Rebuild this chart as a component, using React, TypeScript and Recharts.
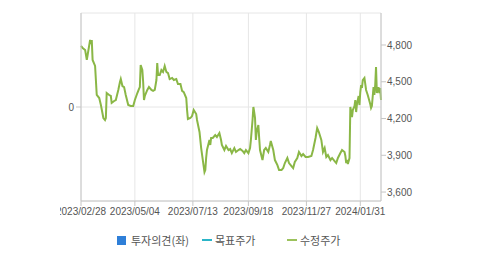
import { CartesianGrid, Line, LineChart, XAxis, YAxis } from 'recharts';

// 수정주가 (adjusted price)
const dates = [
  '2023-02-28', '2023-03-02', '2023-03-05', '2023-03-07', '2023-03-08', '2023-03-11', '2023-03-12', '2023-03-13',
  '2023-03-14', '2023-03-17', '2023-03-19', '2023-03-22', '2023-03-24', '2023-03-27', '2023-03-29', '2023-03-30',
  '2023-03-31', '2023-04-03', '2023-04-05', '2023-04-06', '2023-04-09', '2023-04-11', '2023-04-14', '2023-04-16',
  '2023-04-17', '2023-04-19', '2023-04-21', '2023-04-23', '2023-04-26', '2023-04-29', '2023-05-02', '2023-05-04',
  '2023-05-07', '2023-05-09', '2023-05-10', '2023-05-11', '2023-05-13', '2023-05-14', '2023-05-15', '2023-05-16',
  '2023-05-19', '2023-05-21', '2023-05-24', '2023-05-26', '2023-05-28', '2023-05-30', '2023-05-31', '2023-06-01',
  '2023-06-03', '2023-06-05', '2023-06-07', '2023-06-09', '2023-06-11', '2023-06-13', '2023-06-15', '2023-06-18',
  '2023-06-20', '2023-06-23', '2023-06-25', '2023-06-28', '2023-06-30', '2023-07-02', '2023-07-05', '2023-07-06',
  '2023-07-07', '2023-07-10', '2023-07-12', '2023-07-14', '2023-07-17', '2023-07-18', '2023-07-21', '2023-07-23',
  '2023-07-25', '2023-07-27', '2023-07-28', '2023-07-29', '2023-07-30', '2023-08-02', '2023-08-03', '2023-08-04',
  '2023-08-06', '2023-08-09', '2023-08-11', '2023-08-14', '2023-08-16', '2023-08-17', '2023-08-20', '2023-08-22',
  '2023-08-25', '2023-08-27', '2023-08-29', '2023-09-01', '2023-09-03', '2023-09-06', '2023-09-08', '2023-09-11',
  '2023-09-13', '2023-09-15', '2023-09-18', '2023-09-20', '2023-09-21', '2023-09-23', '2023-09-24', '2023-09-25',
  '2023-09-26', '2023-09-27', '2023-09-28', '2023-09-30', '2023-10-01', '2023-10-02', '2023-10-05', '2023-10-07',
  '2023-10-09', '2023-10-12', '2023-10-14', '2023-10-15', '2023-10-18', '2023-10-20', '2023-10-23', '2023-10-25',
  '2023-10-28', '2023-10-30', '2023-11-01', '2023-11-04', '2023-11-06', '2023-11-09', '2023-11-11', '2023-11-13',
  '2023-11-16', '2023-11-18', '2023-11-21', '2023-11-23', '2023-11-26', '2023-11-29', '2023-12-03', '2023-12-05',
  '2023-12-08', '2023-12-10', '2023-12-12', '2023-12-15', '2023-12-17', '2023-12-19', '2023-12-21', '2023-12-23',
  '2023-12-26', '2023-12-28', '2023-12-31', '2024-01-02', '2024-01-04', '2024-01-07', '2024-01-09', '2024-01-12',
  '2024-01-13', '2024-01-14', '2024-01-15', '2024-01-16', '2024-01-18', '2024-01-19', '2024-01-20', '2024-01-21',
  '2024-01-22', '2024-01-24', '2024-01-25', '2024-01-26', '2024-01-27', '2024-01-29', '2024-01-30', '2024-01-31',
  '2024-02-01', '2024-02-02', '2024-02-03', '2024-02-05', '2024-02-06', '2024-02-07', '2024-02-09', '2024-02-12',
  '2024-02-13', '2024-02-14', '2024-02-16', '2024-02-17', '2024-02-18', '2024-02-19', '2024-02-20', '2024-02-22',
  '2024-02-23', '2024-02-24', '2024-02-25',
];

const prices = [
  4792, 4776, 4759, 4678, 4718, 4841, 4808, 4841,
  4678, 4629, 4392, 4367, 4310, 4204, 4188, 4204,
  4408, 4392, 4384, 4327, 4343, 4351, 4433, 4498,
  4522, 4465, 4457, 4392, 4310, 4302, 4302, 4351,
  4408, 4441, 4457, 4637, 4596, 4498, 4351, 4384,
  4433, 4457, 4433, 4425, 4433, 4514, 4653, 4555,
  4555, 4596, 4580, 4629, 4580, 4571, 4522, 4531,
  4514, 4522, 4482, 4482, 4425, 4416, 4367, 4269,
  4196, 4204, 4220, 4269, 4237, 4188, 4090, 3959,
  3861, 3763, 3780, 3878, 3943, 4025, 3984, 4041,
  4041, 4065, 4049, 4082, 4025, 3984, 3943, 3976,
  3943, 3951, 3918, 3959, 3927, 3943, 3951, 3935,
  3918, 3943, 3918, 3959, 4025, 4188, 4294, 4253,
  4204, 4025, 4090, 4147, 4041, 3943, 3861, 3943,
  3959, 3927, 3984, 4016, 3943, 3861, 3820, 3780,
  3780, 3796, 3837, 3878, 3837, 3812, 3796, 3845,
  3878, 3927, 3894, 3910, 3886, 3886, 3894, 3943,
  4041, 4122, 4090, 4025, 3927, 3959, 3886, 3902,
  3861, 3878, 3853, 3837, 3878, 3918, 3943, 3927,
  3894, 3837, 3861, 3829, 3878, 4294, 4253, 4212,
  4269, 4302, 4351, 4253, 4318, 4384, 4310, 4416,
  4473, 4449, 4514, 4531, 4482, 4433, 4392, 4318,
  4286, 4302, 4457, 4392, 4473, 4620, 4408, 4457,
  4408, 4449, 4351,
];

// 투자의견 (left axis) has no points in this period
const opinions: (number | null)[] = [];

const xTickDates = ['2023-02-28', '2023-05-04', '2023-07-13', '2023-09-18', '2023-11-27', '2024-01-31'];
const priceTicks = [3600, 3900, 4200, 4500, 4800];
const opinionTicks = [0];

const toTs = (d: string) => Date.parse(d + 'T00:00:00Z');

const data = dates.map((d, i) => ({ t: toTs(d), price: prices[i], opinion: opinions[i] ?? null }));
const xDomain = [toTs('2023-02-28'), toTs('2024-02-25')];

const fmtDate = (ts: number) => {
  const d = new Date(ts);
  const mm = String(d.getUTCMonth() + 1).padStart(2, '0');
  const dd = String(d.getUTCDate()).padStart(2, '0');
  return `${d.getUTCFullYear()}/${mm}/${dd}`;
};

const tickStyle = { fontSize: 10, fill: '#555', fontFamily: '"Liberation Sans", Arial, sans-serif' };
const border = '#c6c6c6';

const legendText = { fontSize: 11, color: '#555', fontFamily: '"Noto Sans CJK KR", sans-serif' };

export default function App() {
  return (
    <div style={{ position: 'absolute', left: 0, top: 0, width: 479, height: 254, background: '#fff' }}>
      <div style={{ position: 'absolute', left: 60, top: 0, width: 380, height: 254, overflow: 'hidden' }}>
        <LineChart width={380} height={254} data={data} margin={{ top: 13, right: 9, bottom: 31, left: 0 }}>
          <CartesianGrid yAxisId="left" stroke="#e6e6e6" />
          <XAxis
            dataKey="t"
            type="number"
            scale="time"
            domain={xDomain}
            ticks={xTickDates.map(toTs)}
            tickFormatter={fmtDate}
            tick={tickStyle}
            stroke={border}
            tickSize={5}
            height={22}
            interval={0}
          />
          <XAxis xAxisId="top" orientation="top" type="number" domain={xDomain} tick={false} tickLine={false} stroke={border} height={0} />
          <YAxis
            yAxisId="left"
            type="number"
            domain={[-1, 1]}
            allowDataOverflow
            ticks={opinionTicks}
            tick={tickStyle}
            stroke={border}
            tickSize={5}
            width={21}
            interval={0}
          />
          <YAxis
            yAxisId="right"
            orientation="right"
            type="number"
            domain={[3527, 5061]}
            allowDataOverflow
            ticks={priceTicks}
            tickFormatter={(v: number) => v.toLocaleString('en-US')}
            tick={tickStyle}
            stroke={border}
            tickSize={5}
            tickMargin={1}
            width={50}
            interval={0}
          />
          <Line
            yAxisId="left"
            dataKey="opinion"
            stroke="#2f7fd8"
            dot={false}
            isAnimationActive={false}
          />
          <Line
            yAxisId="right"
            dataKey="price"
            stroke="#8ab746"
            strokeWidth={2}
            dot={false}
            isAnimationActive={false}
          />
        </LineChart>
      </div>
      <div style={{ position: 'absolute', left: 117, top: 236, width: 9, height: 9, background: '#2f7fd8' }} />
      <div style={{ ...legendText, position: 'absolute', left: 131, top: 232, lineHeight: '16px' }}>투자의견(좌)</div>
      <div style={{ position: 'absolute', left: 202, top: 239, width: 10, height: 2, background: '#2bb5c8' }} />
      <div style={{ ...legendText, position: 'absolute', left: 215, top: 232, lineHeight: '16px' }}>목표주가</div>
      <div style={{ position: 'absolute', left: 287, top: 239, width: 10, height: 2, background: '#9cc25c' }} />
      <div style={{ ...legendText, position: 'absolute', left: 300, top: 232, lineHeight: '16px' }}>수정주가</div>
    </div>
  );
}
